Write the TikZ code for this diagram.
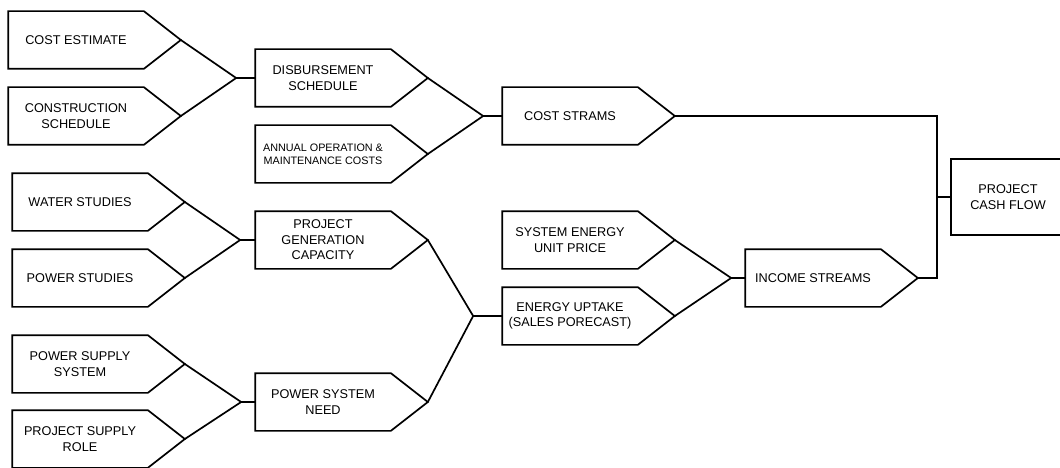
\documentclass[tikz,border=0pt]{standalone}
\usepackage{fontspec}
\setmainfont{Liberation Sans}
\usetikzlibrary{positioning}

\begin{document}
\begin{tikzpicture}[x=1pt,y=-1pt,line width=1.7pt,
 main node/.style={minimum width=134pt,minimum height=56pt,inner sep=0pt,
   align=center,font=\fontsize{12.7}{15.5}\selectfont}]
 \useasboundingbox (0,0) rectangle (1060,468);
 \foreach \s/\x/\y/\l in {CE/76/40/{COST ESTIMATE}, CS/76/116/{CONSTRUCTION\\SCHEDULE},
     WS/80/202/{WATER STUDIES}, PS/80/278/{POWER STUDIES},
     PSS/80/364/{POWER SUPPLY\\SYSTEM}, PSR/80/439/{PROJECT SUPPLY\\ROLE},
     DS/323/78/{DISBURSEMENT\\SCHEDULE}, PGC/323/240/{PROJECT\\GENERATION\\CAPACITY},
     PSN/323/402/{POWER SYSTEM\\NEED}, CST/570/116/{COST STRAMS},
     SEP/570/240/{SYSTEM ENERGY\\UNIT PRICE}, EU/570/316/{ENERGY UPTAKE\\(SALES PORECAST)},
     IS/813/278/{INCOME STREAMS}}{
     \node[main node](\s) at (\x,\y){\l};}
 \node[main node,font=\fontsize{10.8}{13.3}\selectfont](AO) at (323,154){ANNUAL OPERATION \&\\MAINTENANCE COSTS};
 \node[main node,draw,minimum width=114pt,minimum height=76pt](PCF) at (1008,197){PROJECT\\CASH FLOW};

 \foreach \s in {CE,CS,WS,PS,PSS,PSR,DS,AO,PGC,PSN,CST,SEP,EU,IS}{
     \coordinate (\s-tip) at ([xshift=37pt]\s.east);
     \draw (\s.north west) -- (\s.north east) -- (\s-tip) -- (\s.south east) -- (\s.south west) -- cycle;}

 \foreach \a/\b/\t/\d in {CE/CS/DS/19, WS/PS/PGC/15, PSS/PSR/PSN/14, DS/AO/CST/19, PGC/PSN/EU/29, SEP/EU/IS/14}{
     \coordinate (J\t) at ([xshift=-\d]\t.west);
     \draw (\a-tip) -- (J\t) -- (\b-tip) (J\t) -- (\t);}

 \coordinate (K) at (937,197);
 \draw (CST-tip) -| (K) |- (IS-tip);
 \draw (K) -- (PCF);
\end{tikzpicture}
\end{document}
